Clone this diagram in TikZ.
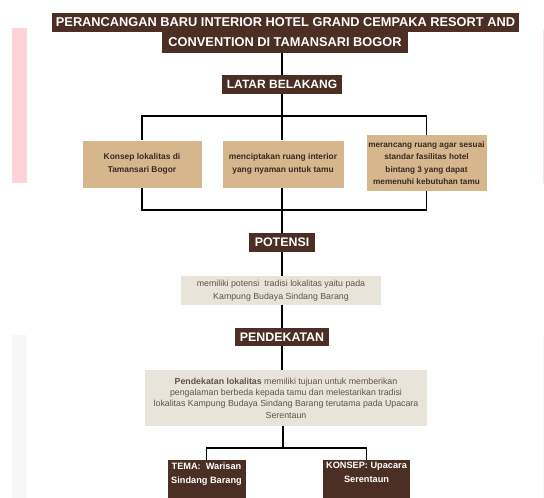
\documentclass[tikz,border=0pt]{standalone}
\usepackage{fontspec}
\setmainfont{Liberation Sans}
\definecolor{kopi}{HTML}{4B2E24}
\definecolor{krem}{HTML}{D5B68D}
\definecolor{pasir}{HTML}{E8E4DA}
\definecolor{tinta}{HTML}{3A2A20}
\definecolor{abu}{HTML}{5E544C}
\definecolor{merahmuda}{HTML}{FCD3D8}
\definecolor{kabut}{HTML}{F7F7F7}

\begin{document}
\begin{tikzpicture}[x=1pt,y=-1pt,
  judul/.style={fill=kopi,text=white,inner sep=0pt,align=center,font=\bfseries\fontsize{12.4}{14}\selectfont},
  latar/.style={fill=krem,text=tinta,inner sep=0pt,align=center,font=\bfseries\fontsize{8.4}{13}\selectfont},
  info/.style={fill=pasir,text=abu,inner sep=0pt,align=center,font=\fontsize{8.8}{13}\selectfont},
  garis/.style={line width=1.7pt,black}]
\useasboundingbox (0,0) rectangle (544,498);
% pita samping
\fill[merahmuda] (12,28) rectangle (27,183); \fill[kabut] (12,335) rectangle (27,498);
\fill[merahmuda!60] (542.5,30) rectangle (544,183); \fill[kabut] (542.5,335) rectangle (544,498);
% judul
\node[judul,minimum width=467pt,minimum height=19pt,font=\bfseries\fontsize{12.8}{14}\selectfont] (judul1) at (285.5,22.5) {PERANCANGAN BARU INTERIOR HOTEL GRAND CEMPAKA RESORT AND};
\node[judul,minimum width=246pt,minimum height=21pt,font=\bfseries\fontsize{12.8}{14}\selectfont] (judul2) at (285,42.5) {CONVENTION DI TAMANSARI BOGOR};
\node[judul,minimum width=120pt,minimum height=19pt,font=\bfseries\fontsize{12}{14}\selectfont] (latarbel) at (282,84.5) {LATAR BELAKANG};
% latar belakang
\node[latar,minimum width=119pt,minimum height=47pt] (konsep1) at (142,164) {Konsep lokalitas di\\Tamansari Bogor};
\node[latar,minimum width=121pt,minimum height=47pt] (ruang) at (283,164) {menciptakan ruang interior\\yang nyaman untuk tamu};
\node[latar,minimum width=120pt,minimum height=56pt,font=\bfseries\fontsize{8.2}{12.6}\selectfont] (standar) at (426.5,163) {merancang ruang agar sesuai\\standar fasilitas hotel\\bintang 3 yang dapat\\memenuhi kebutuhan tamu};
\coordinate (cabang1) at (282,116); \coordinate (gabung1) at (282,210);
% potensi dan pendekatan
\node[judul,minimum width=66pt,minimum height=19pt] (potensi) at (282,242.5) {POTENSI};
\node[info,minimum width=200pt,minimum height=29pt] (potinfo) at (281,290.5) {memiliki potensi~ tradisi lokalitas yaitu pada\\Kampung Budaya Sindang Barang};
\node[judul,minimum width=94pt,minimum height=18pt] (pendekatan) at (282,337) {PENDEKATAN};
\node[info,minimum width=282pt,minimum height=56pt,font=\fontsize{8.8}{11.4}\selectfont] (pendinfo) at (286,398) {\textbf{Pendekatan lokalitas} memiliki tujuan untuk memberikan\\pengalaman berbeda kepada tamu dan melestarikan tradisi\\lokalitas Kampung Budaya Sindang Barang terutama pada Upacara\\Serentaun};
% tema dan konsep
\node[judul,minimum width=78pt,minimum height=42pt,font=\bfseries\fontsize{9.2}{14}\selectfont,anchor=north] (tema) at (206.5,460) {TEMA:~ Warisan\\Sindang Barang\\[3pt]};
\node[judul,minimum width=87pt,minimum height=42pt,font=\bfseries\fontsize{9.2}{14}\selectfont,anchor=north] (konsep2) at (366.5,460) {KONSEP: Upacara\\Serentaun\\[3pt]};
\coordinate (cabang2) at (283,448);
% garis
\draw[garis] (latarbel |- judul2.south) -- (latarbel.north);
\draw[garis] (latarbel.south) -- (cabang1);
\draw[garis] (konsep1.north) |- (cabang1) -| (standar.north);
\draw[garis] (cabang1) -- (cabang1 |- ruang.north);
\draw[garis] (konsep1.south) |- (gabung1) -| (standar.south);
\draw[garis] (gabung1 |- ruang.south) -- (gabung1 |- potensi.north);
\draw[garis] (potensi.south) -- (potensi |- potinfo.north);
\draw[garis] (potensi |- potinfo.south) -- (pendekatan.north);
\draw[garis] (pendekatan.south) -- (pendekatan |- pendinfo.north);
\draw[garis] (cabang2 |- pendinfo.south) -- (cabang2);
\draw[garis] (tema.north) |- (cabang2) -| (konsep2.north);
\end{tikzpicture}
\end{document}
